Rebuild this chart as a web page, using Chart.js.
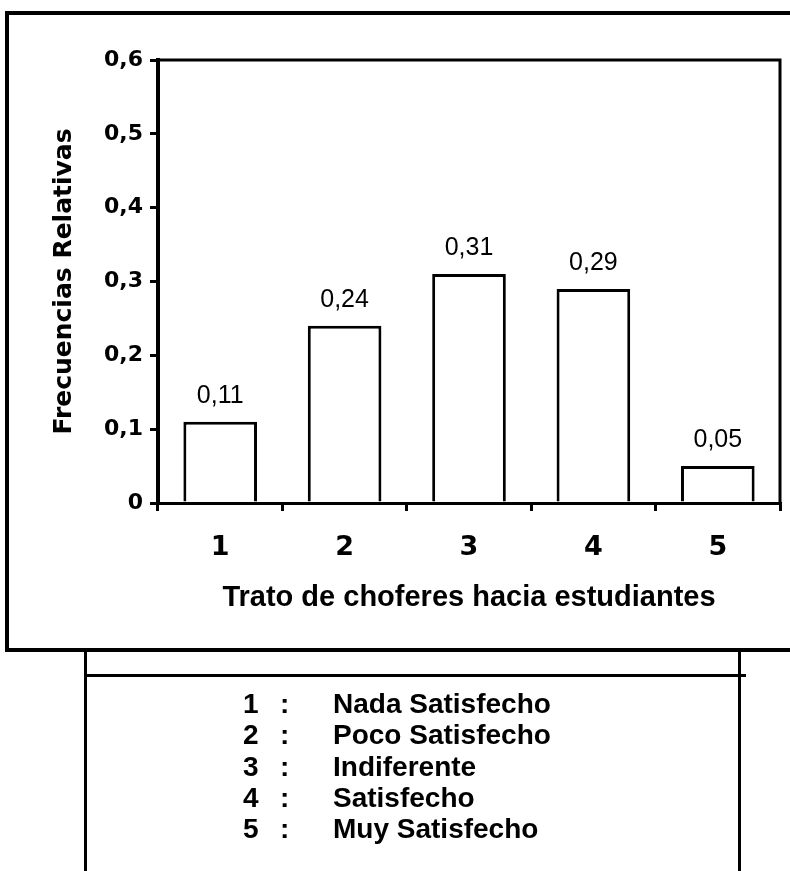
<!DOCTYPE html>
<html lang="es">
<head>
<meta charset="utf-8">
<title>Trato de choferes hacia estudiantes</title>
<script src="https://cdn.jsdelivr.net/npm/chart.js@4/dist/chart.umd.min.js"></script>
<style>
  html, body { margin: 0; padding: 0; background: #fff; overflow: hidden; }
  #page { position: relative; width: 790px; height: 871px; overflow: hidden; background: #fff; }
  #plot { position: absolute; left: 0; top: 0; }
  .frame { position: absolute; box-sizing: border-box; border: 4px solid #000; left: 5px; top: 11px; width: 900px; height: 641px; }
  .key-box { position: absolute; box-sizing: border-box; left: 84px; top: 650px; width: 657px; height: 260px;
             border-left: 3px solid #000; border-right: 3px solid #000; }
  .key-rule { position: absolute; left: 84px; top: 674px; width: 662px; height: 3px; background: #000; }
  .key { position: absolute; left: 0; top: 688px; width: 790px;
         font: bold 28px "Liberation Sans", Arial, sans-serif; line-height: 31.3px; color: #000; }
  .key-row { position: relative; height: 31.3px; white-space: nowrap; }
  .key-row span { position: absolute; top: 0; }
  .k-code { left: 243px; }
  .k-sep { left: 280px; }
  .k-name { left: 333px; }
</style>
</head>
<body>
<div id="page">
  <canvas id="plot" width="790" height="651"></canvas>
  <div class="frame"></div>
  <div class="key-box"></div>
  <div class="key-rule"></div>
  <div class="key" id="key"></div>
</div>
<script>
// Response categories (codes on the x axis) and their relative frequencies
const categories = ['1', '2', '3', '4', '5'];
const frequencies = [0.11, 0.24, 0.31, 0.29, 0.05];

// Y axis tick labels (decimal comma), one per 0.1 step from 0 to 0.6
const yTickLabels = ['0', '0,1', '0,2', '0,3', '0,4', '0,5', '0,6'];

// Meaning of each code
const categoryNames = ['Nada Satisfecho', 'Poco Satisfecho', 'Indiferente', 'Satisfecho', 'Muy Satisfecho'];

const xTitle = 'Trato de choferes hacia estudiantes';
const yTitle = 'Frecuencias Relativas';

// Key under the chart
const key = document.getElementById('key');
categories.forEach((code, i) => {
  const row = document.createElement('div');
  row.className = 'key-row';
  row.innerHTML = '<span class="k-code"></span><span class="k-sep">:</span><span class="k-name"></span>';
  row.querySelector('.k-code').textContent = code;
  row.querySelector('.k-name').textContent = categoryNames[i];
  key.appendChild(row);
});

const heavy = { family: '"DejaVu Sans", sans-serif', weight: 'bold' };

// Frame around the plotting area
const plotFrame = {
  id: 'plotFrame',
  afterDraw(chart) {
    const { ctx, chartArea: a } = chart;
    ctx.save();
    ctx.strokeStyle = '#000';
    ctx.lineWidth = 3;
    ctx.beginPath();
    ctx.moveTo(a.left, a.top);
    ctx.lineTo(a.right, a.top);
    ctx.lineTo(a.right, a.bottom);
    ctx.stroke();
    ctx.restore();
  }
};

// Value written above each bar
const barValues = {
  id: 'barValues',
  afterDatasetsDraw(chart) {
    const { ctx } = chart;
    const meta = chart.getDatasetMeta(0);
    ctx.save();
    ctx.fillStyle = '#000';
    ctx.font = '25px "Liberation Sans", Arial, sans-serif';
    ctx.textAlign = 'center';
    ctx.textBaseline = 'alphabetic';
    meta.data.forEach((bar, i) => {
      const text = frequencies[i].toFixed(2).replace('.', ',');
      ctx.fillText(text, bar.x, bar.y - 19);
    });
    ctx.restore();
  }
};

new Chart(document.getElementById('plot'), {
  type: 'bar',
  data: {
    labels: categories,
    datasets: [{
      data: frequencies,
      backgroundColor: '#fff',
      borderColor: '#000',
      borderWidth: 3,
      borderSkipped: 'bottom',
      barPercentage: 0.8,
      categoryPercentage: 0.74
    }]
  },
  options: {
    responsive: false,
    animation: false,
    events: [],
    layout: { padding: { left: 0, top: 60, right: 10, bottom: 0 } },
    plugins: { legend: { display: false }, tooltip: { enabled: false } },
    scales: {
      x: {
        afterFit(scale) { scale.height = 148; },
        grid: { drawOnChartArea: false, drawTicks: true, tickLength: 8, color: '#000', lineWidth: 3, offset: true },
        border: { display: true, color: '#000', width: 3 },
        ticks: {
          color: '#000',
          padding: 21,
          font: Object.assign({ size: 27 }, heavy)
        },
        title: {
          display: true,
          text: xTitle,
          color: '#000',
          font: { family: '"Liberation Sans", Arial, sans-serif', weight: 'bold', size: 29 },
          padding: { top: 0, bottom: 36 }
        }
      },
      y: {
        min: 0,
        max: 0.6,
        afterFit(scale) { scale.width = 158; },
        grid: { drawOnChartArea: false, drawTicks: true, tickLength: 8, color: '#000', lineWidth: 3 },
        border: { display: true, color: '#000', width: 4 },
        ticks: {
          stepSize: 0.1,
          color: '#000',
          padding: 7,
          font: Object.assign({ size: 22 }, heavy),
          callback: (value, index) => yTickLabels[index]
        },
        title: {
          display: true,
          text: yTitle,
          color: '#000',
          font: Object.assign({ size: 25 }, heavy),
          padding: { top: 49, bottom: 0 }
        }
      }
    }
  },
  plugins: [plotFrame, barValues]
});
</script>
</body>
</html>
